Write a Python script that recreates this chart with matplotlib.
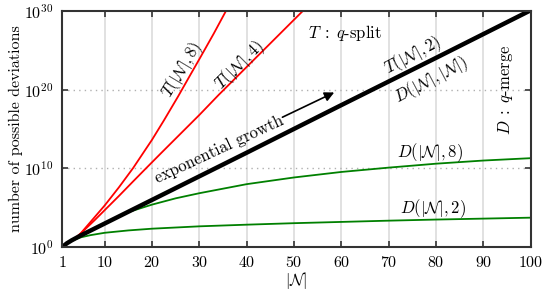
import numpy as np
import matplotlib
matplotlib.use("Agg")
import matplotlib.pyplot as plt

plt.rcParams['font.family'] = 'cmr10'
plt.rcParams['mathtext.fontset'] = 'cm'
plt.rcParams['axes.formatter.use_mathtext'] = True
plt.rcParams['font.size'] = 11.5

# valeurs (log10 du nombre de deviations)
n_t8 = [1, 2, 3, 4, 5, 6, 8, 10, 13, 16, 20, 22.5, 25.5, 28, 30, 33, 35.6, 36]
t8_log = [0, 0.48, 0.86, 1.25, 1.8, 2.5, 3.9, 5.3, 7.6, 10.05, 13.65, 16.1,
          19.15, 21.8, 23.9, 27.1, 30.0, 30.4]

n_t4 = [1, 2, 3, 4, 5, 6, 8, 10, 13, 16, 18.7, 22, 26, 30, 34, 38, 42, 46,
        50, 52]
t4_log = [0, 0.48, 0.86, 1.25, 1.75, 2.35, 3.5, 4.7, 6.5, 8.35, 10.0, 12.0,
          14.4, 16.8, 19.3, 21.7, 24.1, 26.5, 28.9, 30.1]

n_t2 = [1, 2, 3, 5, 10, 20, 40, 60, 80, 100]
t2_log = [0, 0.48, 0.85, 1.5, 3.0, 6.0, 12.0, 18.05, 24.05, 30.1]

n_d8 = [1, 2, 3, 5, 8, 10, 12, 15, 20, 25, 30, 40, 50, 60, 70, 80, 90, 100]
d8_log = [0, 0.48, 0.85, 1.5, 2.4, 3.0, 3.6, 4.45, 5.4, 6.2, 6.85, 8.0, 8.85,
          9.55, 10.1, 10.6, 11.0, 11.3]

n_d2 = [1, 2, 3, 5, 7, 10, 15, 20, 30, 40, 50, 60, 70, 80, 90, 100]
d2_log = [0, 0.48, 0.8, 1.25, 1.52, 1.82, 2.12, 2.34, 2.64, 2.85, 3.04, 3.2,
          3.36, 3.5, 3.62, 3.74]

xticks = [1, 10, 20, 30, 40, 50, 60, 70, 80, 90, 100]
yticks = [1e0, 1e10, 1e20, 1e30]

fig = plt.figure(figsize=(5.45, 2.97), dpi=100)
ax = fig.add_axes([0.114, 0.168, 0.86, 0.795])

for x in xticks[1:-1]:
    ax.axvline(x, color='#dcdcdc', lw=1.2, zorder=0)
for y in yticks[1:-1]:
    ax.axhline(y, color='#b0b0b0', lw=1.0, ls=(0, (1, 3)), zorder=0)

ax.plot(n_t8, 10.0 ** np.array(t8_log), color='red', lw=1.3)
ax.plot(n_t4, 10.0 ** np.array(t4_log), color='red', lw=1.3)
ax.plot(n_d8, 10.0 ** np.array(d8_log), color='green', lw=1.3)
ax.plot(n_d2, 10.0 ** np.array(d2_log), color='green', lw=1.3)
ax.plot(n_t2, 10.0 ** np.array(t2_log), color='black', lw=3.2)

ax.set_yscale('log')
ax.set_xlim(1, 100)
ax.set_ylim(1, 1e30)
ax.set_xticks(xticks)
ax.set_yticks(yticks)
ax.minorticks_off()
ax.tick_params(direction='in', top=True, right=True, length=4, width=1.2,
               color='#333333', pad=6)
for s in ax.spines.values():
    s.set_linewidth(1.5)
    s.set_color('#333333')

ax.set_xlabel(r'$|\mathcal{N}|$', labelpad=0)
ax.set_ylabel('number of possible deviations', labelpad=1)

kw = dict(ha='center', va='center', rotation_mode='anchor', fontsize=12)
ax.text(26.3, 10 ** 22.5, r'$T(|\mathcal{N}|,8)$', rotation=59, **kw)
ax.text(38.5, 10 ** 23.1, r'$T(|\mathcal{N}|,4)$', rotation=45, **kw)
ax.text(60.7, 10 ** 27.2, r'$T\;:\;q$-split', **kw)
ax.text(75.0, 10 ** 24.4, r'$T(|\mathcal{N}|,2)$', rotation=28, **kw)
ax.text(79.0, 10 ** 21.2, r'$D(|\mathcal{N}|,|\mathcal{N}|)$', rotation=28, **kw)
ax.text(94.6, 10 ** 20.0, r'$D\;:\;q$-merge', rotation=90, **kw)
ax.text(34.3, 10 ** 12.4, 'exponential growth', rotation=25, **kw)
ax.text(78.6, 10 ** 12.0, r'$D(|\mathcal{N}|,8)$', **kw)
ax.text(79.3, 10 ** 4.95, r'$D(|\mathcal{N}|,2)$', **kw)

ax.annotate('', xy=(59.0, 10 ** 19.8), xytext=(47.0, 10 ** 16.35),
            arrowprops=dict(arrowstyle='-|>', color='black', lw=1.2,
                            mutation_scale=14))

fig.savefig('out.png', dpi=100)
